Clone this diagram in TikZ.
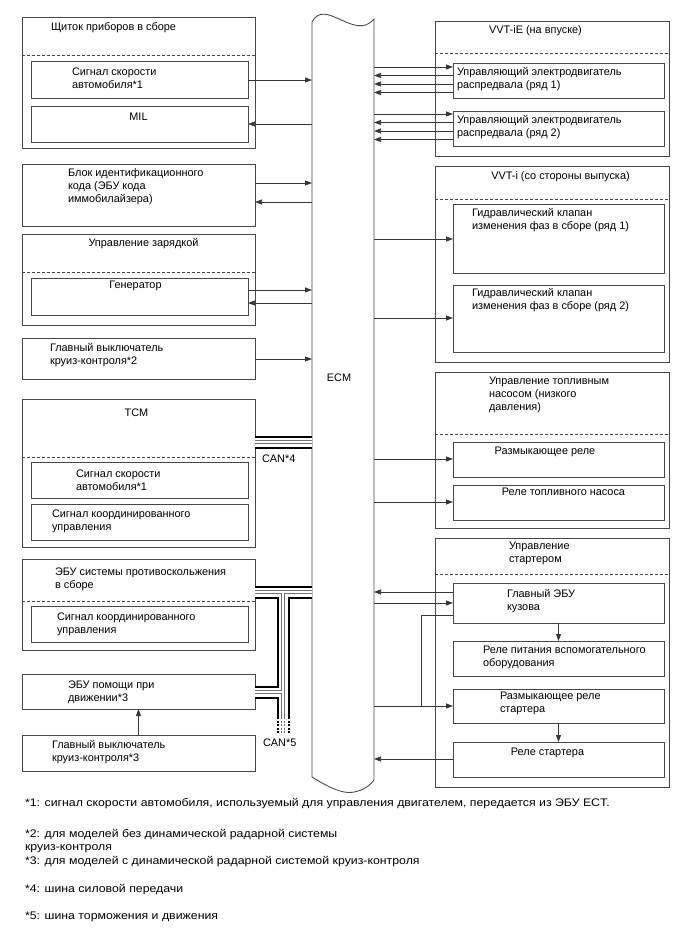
\documentclass[tikz,border=0pt]{standalone}
\usepackage{fontspec}
\setmainfont{Liberation Sans}
\newfontfamily\fnfont[FakeStretch=1.12]{Liberation Sans}
\usetikzlibrary{arrows.meta}
\newcommand\bx[5]{\node[box, minimum width={#4-#2}, minimum height={#5-#3}] (#1) at (#2,#3) {};}
\begin{document}
\begin{tikzpicture}[x=1pt,y=-1pt,
  box/.style={draw=black!72, line width=0.85pt, inner sep=0pt, outer sep=0pt, anchor=north west},
  sep/.style={draw=black!72, line width=0.7pt, dash pattern=on 3pt off 2pt},
  arr/.style={draw=black!78, line width=0.75pt, -{Triangle[length=7pt,width=5pt]}},
  ln/.style={draw=black!78, line width=0.75pt},
  txt/.style={inner sep=0pt, outer sep=0pt, align=left, anchor=north west, yshift=4.6pt, font=\fontsize{10.9}{13}\selectfont},
  ttc/.style={txt, anchor=north, align=center},
  fn/.style={inner sep=0pt, outer sep=0pt, align=left, anchor=north west, yshift=4.8pt, font=\fnfont\fontsize{11}{13.5}\selectfont}
]
\useasboundingbox (0,0) rectangle (688,949);

% ECM
\coordinate (ecmL) at (312,400);
\coordinate (ecmR) at (374,400);
\draw[draw=black!72, line width=0.85pt] (312,22) .. controls (325,-3) and (355,42) .. (374,19)
  -- (374,780) .. controls (371,784) and (366,789) .. (358,791)
  .. controls (345,796) and (330,788) .. (312,777) -- cycle;
\node[ttc] (t_ecm) at (339,378) {ECM};

% left column boxes
\bx{kombi}{22}{17}{255}{148}
\draw[sep] (kombi.west |- 0,55) -- (kombi.east |- 0,55);
\bx{kspd}{31}{61}{248}{98}
\bx{kmil}{31}{106}{248}{142}
\bx{immo}{22}{164}{255}{226}
\bx{chg}{22}{234}{255}{325}
\draw[sep] (chg.west |- 0,272) -- (chg.east |- 0,272);
\bx{gen}{31}{278}{248}{315}
\bx{cc2}{22}{338}{255}{379}
\bx{tcm}{22}{399}{255}{547}
\draw[sep] (tcm.west |- 0,457) -- (tcm.east |- 0,457);
\bx{tspd}{31}{462}{248}{498}
\bx{tcoord}{31}{504}{248}{540}
\bx{abs}{22}{559}{255}{650}
\draw[sep] (abs.west |- 0,601) -- (abs.east |- 0,601);
\bx{acoord}{31}{606}{248}{642}
\bx{dsu}{22}{674}{255}{709}
\bx{cc3}{22}{735}{255}{771}

% right column boxes
\bx{vvte}{435}{21}{669}{156}
\draw[sep] (vvte.west |- 0,53) -- (vvte.east |- 0,53);
\bx{m1}{453}{63}{664}{98}
\bx{m2}{453}{111}{664}{146}
\bx{vvti}{435}{166}{669}{362}
\draw[sep] (vvti.west |- 0,199) -- (vvti.east |- 0,199);
\bx{h1}{453}{204}{664}{273}
\bx{h2}{453}{285}{664}{352}
\bx{fp}{435}{372}{669}{528}
\draw[sep] (fp.west |- 0,434) -- (fp.east |- 0,434);
\bx{cor}{453}{442}{664}{477}
\bx{fpr}{453}{485}{664}{520}
\bx{st}{435}{538}{669}{787}
\draw[sep] (st.west |- 0,574) -- (st.east |- 0,574);
\bx{bcm}{453}{583}{664}{623}
\bx{acc}{453}{641}{664}{676}
\bx{sco}{453}{689}{664}{723}
\bx{str}{453}{742}{664}{777}

% texts left
\node[txt] (t_kombi) at (51,27) {Щиток приборов в сборе};
\node[txt] (t_kspd) at (72,72) {Сигнал скорости\\автомобиля*1};
\node[ttc] (t_mil) at (138.5,118) {MIL};
\node[txt] (t_immo) at (68,173) {Блок идентификационного\\кода (ЭБУ кода\\иммобилайзера)};
\node[ttc] (t_chg) at (143.5,243) {Управление зарядкой};
\node[ttc] (t_gen) at (135.5,286) {Генератор};
\node[txt] (t_cc2) at (50,348) {Главный выключатель\\круиз-контроля*2};
\node[ttc] (t_tcm) at (136.5,413) {TCM};
\node[txt] (t_tspd) at (76,474) {Сигнал скорости\\автомобиля*1};
\node[txt] (t_tco) at (52,514) {Сигнал координированного\\управления};
\node[txt] (t_can4) at (262,459) {CAN*4};
\node[txt] (t_abs) at (55,572) {ЭБУ системы противоскольжения\\в сборе};
\node[txt] (t_aco) at (57,617) {Сигнал координированного\\управления};
\node[txt] (t_dsu) at (68,685) {ЭБУ помощи при\\движении*3};
\node[txt] (t_cc3) at (52,745) {Главный выключатель\\круиз-контроля*3};
\node[txt] (t_can5) at (263,743) {CAN*5};

% texts right
\node[ttc] (t_vvte) at (535.5,30) {VVT-iE (на впуске)};
\node[txt] (t_m1) at (457,72) {Управляющий электродвигатель\\распредвала (ряд 1)};
\node[txt] (t_m2) at (457,120) {Управляющий электродвигатель\\распредвала (ряд 2)};
\node[ttc] (t_vvti) at (560.5,176) {VVT-i (со стороны выпуска)};
\node[txt] (t_h1) at (472,213.5) {Гидравлический клапан\\изменения фаз в сборе (ряд 1)};
\node[txt] (t_h2) at (472,293) {Гидравлический клапан\\изменения фаз в сборе (ряд 2)};
\node[txt] (t_fp) at (489,382) {Управление топливным\\насосом (низкого\\давления)};
\node[ttc] (t_cor) at (545,452) {Размыкающее реле};
\node[ttc] (t_fpr) at (563.5,493) {Реле топливного насоса};
\node[txt] (t_st) at (509,547) {Управление\\стартером};
\node[txt] (t_bcm) at (507,594) {Главный ЭБУ\\кузова};
\node[txt] (t_acc) at (483,651) {Реле питания вспомогательного\\оборудования};
\node[txt] (t_sco) at (500,697) {Размыкающее реле\\стартера};
\node[ttc] (t_str) at (547.5,753) {Реле стартера};

% arrows left
\draw[arr] (kspd.east |- 0,80) -- (ecmL |- 0,80);
\draw[arr] (ecmL |- 0,124) -- (kmil.east |- 0,124);
\draw[arr] (immo.east |- 0,183) -- (ecmL |- 0,183);
\draw[arr] (ecmL |- 0,202) -- (immo.east |- 0,202);
\draw[arr] (gen.east |- 0,290) -- (ecmL |- 0,290);
\draw[arr] (ecmL |- 0,303) -- (gen.east |- 0,303);
\draw[arr] (cc2.east |- 0,359) -- (ecmL |- 0,359);
\draw[arr] (cc3.north) -- (dsu.south);

% arrows right
\draw[arr] (ecmR |- 0,67) -- (m1.west |- 0,67);
\foreach \yy in {75.5,84,92.5} \draw[arr] (m1.west |- 0,\yy) -- (ecmR |- 0,\yy);
\draw[arr] (ecmR |- 0,114) -- (m2.west |- 0,114);
\foreach \yy in {122.5,131,139.5} \draw[arr] (m2.west |- 0,\yy) -- (ecmR |- 0,\yy);
\draw[arr] (ecmR |- 0,239) -- (h1.west |- 0,239);
\draw[arr] (ecmR |- 0,318) -- (h2.west |- 0,318);
\draw[arr] (ecmR |- 0,459) -- (cor.west |- 0,459);
\draw[arr] (ecmR |- 0,502) -- (fpr.west |- 0,502);
\draw[arr] (bcm.west |- 0,592) -- (ecmR |- 0,592);
\draw[arr] (ecmR |- 0,603) -- (bcm.west |- 0,603);
\coordinate (jn) at (421,706);
\draw[ln] (bcm.west |- 0,615) -| (jn);
\draw[arr] (ecmR |- jn) -- (sco.west |- jn);
\draw[arr] (bcm.south) -- (acc.north);
\draw[arr] (sco.south) -- (str.north);
\draw[arr] (str.west |- 0,759) -- (ecmR |- 0,759);

% CAN buses
\coordinate (vtop) at (283,592);
\coordinate (vbot) at (283,717);
\coordinate (vj) at (283,692);
\foreach \w/\c in {13/black, 9/white, 4/black!55, 2.6/white}{
  \draw[line width=\w pt, draw=\c] (tcm.east |- 0,442) -- (ecmL |- 0,442);
  \draw[line width=\w pt, draw=\c] (abs.east |- vtop) -- (ecmL |- vtop);
  \draw[line width=\w pt, draw=\c] (vtop) -- (vbot);
  \draw[line width=\w pt, draw=\c] (dsu.east |- vj) -- (vj);
}
\foreach \xx/\w/\c in {277.5/2/black, 288.5/2/black, 281.35/0.7/black!55, 284.65/0.7/black!55}
  \draw[line width=\w pt, draw=\c, dash pattern=on 2pt off 1.5pt] (\xx,717) -- (\xx,733);

% footnotes
\node[fn] (f1) at (25,803) {*1: сигнал скорости автомобиля, используемый для управления двигателем, передается из ЭБУ ECT.};
\node[fn] (f2) at (25,834) {*2: для моделей без динамической радарной системы\\круиз-контроля};
\node[fn] (f3) at (25,861) {*3: для моделей с динамической радарной системой круиз-контроля};
\node[fn] (f4) at (25,889) {*4: шина силовой передачи};
\node[fn] (f5) at (25,917) {*5: шина торможения и движения};
\end{tikzpicture}
\end{document}
